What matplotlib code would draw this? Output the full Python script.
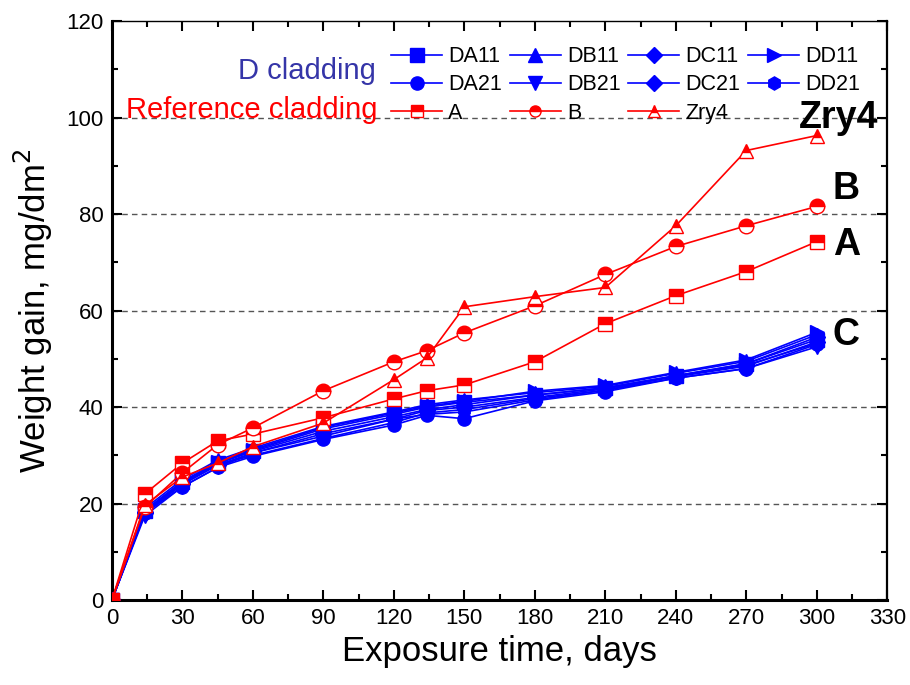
import numpy as np
import matplotlib.pyplot as plt
from matplotlib.ticker import MultipleLocator

plt.rcParams['font.family'] = ['Liberation Sans', 'DejaVu Sans']

# --- data ---
days = np.array([0, 14, 30, 45, 60, 90, 120, 134, 150, 180, 210, 240, 270, 300])

# D cladding
DA11 = [0, 18.5, 24.5, 28.5, 31.0, 35.5, 38.5, 40.0, 41.0, 42.5, 44.0, 46.5, 49.0, 54.0]
DB11 = [0, 19.0, 25.0, 29.0, 31.5, 36.0, 39.0, 40.5, 41.5, 43.0, 44.3, 47.0, 49.5, 55.0]
DC11 = [0, 18.3, 24.3, 28.3, 30.8, 35.0, 38.0, 39.5, 40.5, 42.5, 44.0, 46.5, 49.0, 54.5]
DD11 = [0, 18.6, 24.6, 28.6, 31.2, 35.8, 38.8, 40.2, 41.2, 43.3, 44.5, 47.2, 49.8, 55.5]
DA21 = [0, 18.0, 23.5, 27.5, 29.8, 33.3, 36.3, 38.3, 37.6, 41.3, 43.2, 46.0, 48.0, 53.0]
DB21 = [0, 17.5, 23.5, 27.5, 30.5, 34.0, 37.5, 38.5, 39.0, 41.5, 43.5, 46.0, 48.0, 52.5]
DC21 = [0, 18.0, 24.0, 28.0, 30.5, 34.5, 37.5, 39.3, 40.0, 42.0, 43.8, 46.3, 48.5, 53.5]
DD21 = [0, 18.2, 24.0, 28.0, 30.0, 33.5, 36.8, 38.8, 39.5, 41.8, 43.5, 46.5, 48.7, 53.2]

# reference cladding
A = [0, 22.0, 28.4, 33.0, 34.4, 37.8, 41.7, 43.4, 44.6, 49.4, 57.3, 63.1, 68.1, 74.3]
B = [0, 19.3, 26.4, 32.2, 35.7, 43.4, 49.4, 51.7, 55.4, 61.0, 67.5, 73.3, 77.6, 81.6]
Zry4 = [0, 19.7, 25.5, 28.4, 31.8, 36.7, 45.7, 50.2, 60.8, 62.9, 64.8, 77.6, 93.2, 96.3]

fig = plt.figure(figsize=(9.1, 6.85), dpi=100)
ax = fig.add_axes([0.123, 0.124, 0.852, 0.845])

# grid lines (only 20..100)
for yv in [20, 40, 60, 80, 100]:
    ax.axhline(yv, color='#555555', lw=1.0, ls=(0, (4, 3)), zorder=0)

blue = '#0000ff'
red = '#ff0000'
handles = {}
for name, vals, mk in [('DA11', DA11, 's'), ('DA21', DA21, 'o'),
                       ('DB11', DB11, '^'), ('DB21', DB21, 'v'),
                       ('DC11', DC11, 'D'), ('DC21', DC21, 'D'),
                       ('DD11', DD11, '>'), ('DD21', DD21, 'h')]:
    ms = 8 if mk == 'D' else 9.5
    h, = ax.plot(days, vals, '-', color=blue, marker=mk, ms=ms, lw=1.2,
                 mfc=blue, mec=blue, label=name, zorder=3)
    handles[name] = h

for name, vals, mk in [('A', A, 's'), ('B', B, 'o'), ('Zry4', Zry4, '^')]:
    h, = ax.plot(days, vals, '-', color=red, marker=mk, ms=10.5, lw=1.2,
                 mfc=red, mfcalt='white', fillstyle='top', mec=red,
                 mew=1.0, label=name, zorder=4)
    handles[name] = h

order = ['DA11', 'DA21', 'A', 'DB11', 'DB21', 'B', 'DC11', 'DC21', 'Zry4', 'DD11', 'DD21']
leg = ax.legend([handles[k] for k in order], order, ncol=4, frameon=False,
                fontsize=15.5, handlelength=2.37, handletextpad=0.28,
                columnspacing=0.37, labelspacing=0.34, borderpad=0,
                loc='upper left', bbox_to_anchor=(0.36, 0.957), borderaxespad=0)
for h, name in zip(leg.legend_handles, order):
    if name in ('A', 'B', 'Zry4'):
        h.set_markersize(8)

ax.text(0.34, 0.914, 'D cladding', transform=ax.transAxes, color='#3535a8',
        fontsize=21, ha='right', va='center')
ax.text(0.343, 0.846, 'Reference cladding', transform=ax.transAxes, color=red,
        fontsize=21, ha='right', va='center')

# end labels
ax.text(309.5, 100.0, 'Zry4', fontsize=27, fontweight='bold', ha='center', va='center')
ax.text(312.5, 85.2, 'B', fontsize=27, fontweight='bold', ha='center', va='center')
ax.text(312.5, 73.7, 'A', fontsize=27, fontweight='bold', ha='center', va='center')
ax.text(312.5, 55.0, 'C', fontsize=27, fontweight='bold', ha='center', va='center')

ax.set_xlim(0, 330)
ax.set_ylim(0, 120)
ax.xaxis.set_major_locator(MultipleLocator(30))
ax.xaxis.set_minor_locator(MultipleLocator(15))
ax.yaxis.set_major_locator(MultipleLocator(20))
ax.yaxis.set_minor_locator(MultipleLocator(10))
ax.tick_params(which='both', direction='in', top=True, right=True,
               labelsize=16, width=1.5, pad=6)
ax.tick_params(which='major', length=7)
ax.tick_params(which='minor', length=4)

ax.spines['left'].set_linewidth(2.2)
ax.spines['bottom'].set_linewidth(2.2)
ax.spines['right'].set_linewidth(1.6)
ax.spines['top'].set_linewidth(1.0)

ax.set_xlabel('Exposure time, days', fontsize=25, labelpad=4)
ax.set_ylabel('Weight gain, mg/dm$^2$', fontsize=25, labelpad=8)

fig.savefig('out.png', dpi=100)
